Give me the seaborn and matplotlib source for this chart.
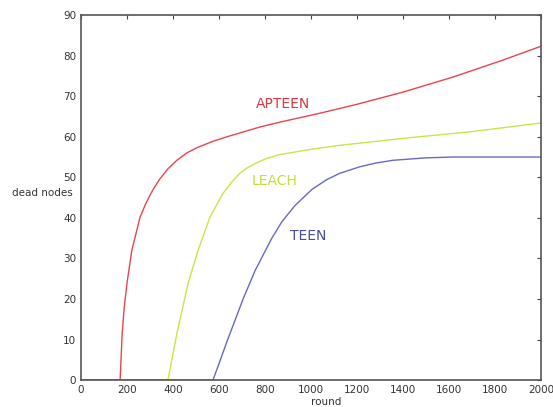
import pandas as pd
import matplotlib
matplotlib.use("Agg")
import matplotlib.pyplot as plt
import seaborn as sns

# values
apteen_rounds = [0, 170, 174, 179, 188, 200, 221, 257, 280, 300, 320, 343, 378, 417, 460, 504, 570, 635, 778, 865, 1039, 1200, 1400, 1617, 1835, 2000]
apteen_dead = [0, 0, 5, 11.5, 18, 23.9, 32, 40.2, 43.3, 45.6, 47.6, 49.6, 52.1, 54.2, 56, 57.3, 58.8, 60, 62.4, 63.6, 65.8, 68, 71, 74.7, 78.9, 82.3]

leach_rounds = [0, 378, 395, 417, 466, 509, 561, 617, 655, 691, 725, 765, 810, 865, 1000, 1113, 1400, 1691, 2000]
leach_dead = [0, 0, 5, 11.5, 23.9, 32, 40.2, 46, 48.8, 51, 52.4, 53.6, 54.7, 55.6, 56.9, 57.8, 59.6, 61.2, 63.4]

teen_rounds = [0, 574, 638, 705, 757, 830, 873, 930, 1004, 1068, 1126, 1213, 1280, 1357, 1500, 1617, 2000]
teen_dead = [0, 0, 10, 20, 27, 35, 39, 43, 47, 49.4, 51, 52.6, 53.5, 54.2, 54.8, 55, 55]

names = ["APTEEN", "LEACH", "TEEN"]
colors = {"APTEEN": "#e8454b", "LEACH": "#cde447", "TEEN": "#6868c8"}
text_colors = {"APTEEN": "#d8383f", "LEACH": "#c4dc3c", "TEEN": "#4b4ba2"}
label_pos = {"APTEEN": (878, 68), "LEACH": (843, 49), "TEEN": (987, 35.5)}

frames = []
for name, r, d in zip(names, [apteen_rounds, leach_rounds, teen_rounds],
                      [apteen_dead, leach_dead, teen_dead]):
    frames.append(pd.DataFrame({"round": r, "dead": d, "protocol": name}))
df = pd.concat(frames, ignore_index=True)

sns.set_style("white")
fig = plt.figure(figsize=(5.53, 4.07), dpi=100)
ax = fig.add_axes([0.1465, 0.066, 0.8315, 0.897])

sns.lineplot(data=df, x="round", y="dead", hue="protocol", palette=colors,
             estimator=None, sort=False, linewidth=1.0, legend=False, ax=ax)

for name in names:
    x, y = label_pos[name]
    ax.text(x, y, name, color=text_colors[name], fontsize=10, ha="center", va="center")

ax.set_xlim(0, 2000)
ax.set_ylim(0, 90)
ax.set_xticks(range(0, 2001, 200))
ax.set_yticks(range(0, 91, 10))
ax.tick_params(direction="in", top=True, right=True, labelsize=7.5, length=3,
               color="#444444", labelcolor="#333333")
for s in ax.spines.values():
    s.set_color("#555555")
    s.set_linewidth(1.2)

ax.set_xlabel("round", fontsize=7.5, color="#333333", labelpad=0)
ax.xaxis.set_label_coords(0.533, -0.045)
ax.set_ylabel("dead nodes", fontsize=7.5, color="#333333", rotation=0)
ax.yaxis.set_label_coords(-0.085, 0.5)

fig.savefig("out.png", dpi=100)
